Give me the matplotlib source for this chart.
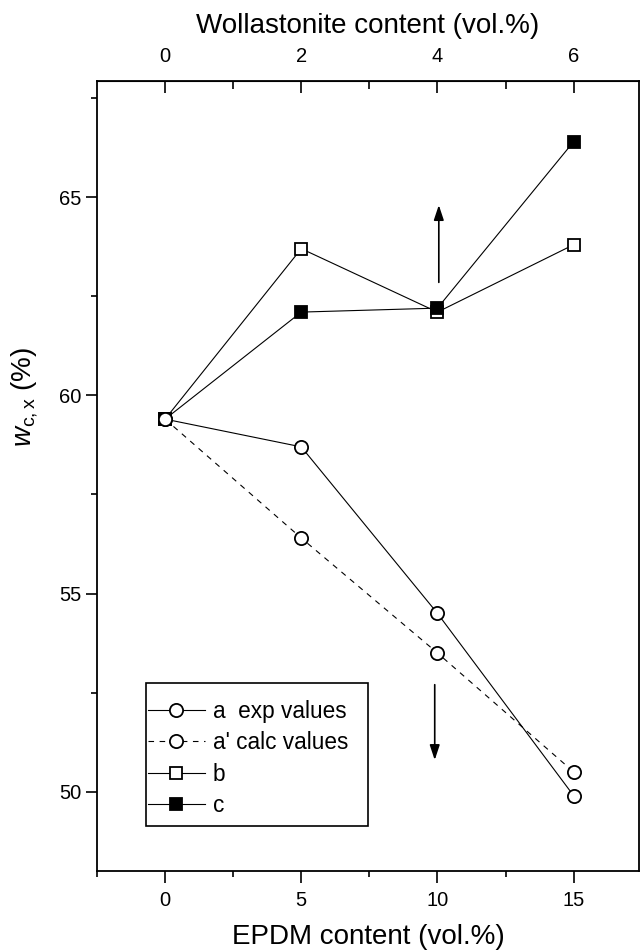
import matplotlib
matplotlib.use("Agg")
import matplotlib.pyplot as plt
from matplotlib.ticker import MultipleLocator, FixedLocator
from matplotlib.patches import Rectangle

plt.rcParams['font.family'] = ['Liberation Sans', 'DejaVu Sans']
plt.rcParams['mathtext.fontset'] = 'custom'
plt.rcParams['mathtext.rm'] = 'Liberation Sans'
plt.rcParams['mathtext.it'] = 'Liberation Sans:italic'

# EPDM content (vol.%) and the crystallinity of each series
epdm = [0, 5, 10, 15]
a_exp = [59.4, 58.7, 54.5, 49.9]
a_calc = [59.4, 56.4, 53.5, 50.5]
b_vals = [59.4, 63.7, 62.1, 63.8]
c_vals = [59.4, 62.1, 62.2, 66.4]
wollastonite_ticks = [0, 2, 4, 6]

W, H = 640, 951
fig = plt.figure(figsize=(W / 100, H / 100), dpi=100)
ax = fig.add_axes([97 / W, (H - 871) / H, (639 - 97) / W, (871 - 81) / H])

lw = 0.8
ms_c = 9.5
ms_s = 8.5
mew = 1.3
ax.plot(epdm, b_vals, '-', color='black', lw=lw, marker='s', ms=ms_s,
        mfc='white', mec='black', mew=mew, label='b', zorder=3)
ax.plot(epdm, c_vals, '-', color='black', lw=lw, marker='s', ms=ms_s,
        mfc='black', mec='black', mew=mew, label='c', zorder=3)
ax.plot(epdm, a_exp, '-', color='black', lw=lw, marker='o', ms=ms_c,
        mfc='white', mec='black', mew=mew, label='a  exp values', zorder=4)
line_calc, = ax.plot(epdm, a_calc, '--', color='black', lw=lw, marker='o', ms=ms_c,
                     mfc='white', mec='black', mew=mew, label="a' calc values", zorder=4)
line_calc.set_dashes([5, 5])

# direction arrows
arrow = dict(arrowstyle='-|>,head_length=0.9,head_width=0.3', color='black', lw=1.2,
             shrinkA=0, shrinkB=0)
ax.annotate('', xy=(10.05, 64.8), xytext=(10.05, 62.85), arrowprops=arrow)
ax.annotate('', xy=(9.9, 50.8), xytext=(9.9, 52.7), arrowprops=arrow)

ax.set_xlim(-2.5, 17.4)
ax.set_ylim(48, 67.93)
ax.xaxis.set_major_locator(MultipleLocator(5))
ax.xaxis.set_minor_locator(MultipleLocator(2.5))
ax.yaxis.set_major_locator(MultipleLocator(5))
ax.yaxis.set_minor_locator(MultipleLocator(2.5))

ax.tick_params(axis='x', which='major', direction='out', length=8.5, width=1.2,
               labelsize=14.5, pad=6, top=False)
ax.tick_params(axis='x', which='minor', direction='out', length=4.5, width=1.2, top=False)
ax.tick_params(axis='y', which='major', direction='out', length=8, width=1.2,
               labelsize=14.5, pad=3, right=False)
ax.tick_params(axis='y', which='minor', direction='out', length=4, width=1.2, right=False)

for s in ax.spines.values():
    s.set_linewidth(1.3)

ax.set_xlabel('EPDM content (vol.%)', fontsize=20, labelpad=10)
ax.set_ylabel(r'$w_{\mathrm{c,x}}$ (%)', fontsize=20)
ax.yaxis.set_label_coords(-0.105, 0.60)

# wollastonite scale on top: 2.5 vol.% EPDM per 1 vol.% wollastonite
top = ax.secondary_xaxis('top', functions=(lambda x: x / 2.5, lambda w: w * 2.5))
top.xaxis.set_major_locator(FixedLocator(wollastonite_ticks))
top.xaxis.set_minor_locator(FixedLocator([1, 3, 5]))
top.tick_params(which='major', direction='in', length=8.5, width=1.2, labelsize=14.5, pad=11)
top.tick_params(which='minor', direction='in', length=5.5, width=1.2)
top.set_xlabel('Wollastonite content (vol.%)', fontsize=20, labelpad=10)

handles, labels = ax.get_legend_handles_labels()
order = [2, 3, 0, 1]
leg = ax.legend([handles[i] for i in order], [labels[i] for i in order],
                loc='upper left', bbox_to_anchor=((148 - 97) / 542, (871 - 700) / 790),
                borderaxespad=0, borderpad=0, fontsize=16.3, frameon=False,
                handlelength=2.5, handletextpad=0.35, labelspacing=0.37, numpoints=1)

# legend box, wider padding above and below the entries than at the sides
frame = Rectangle(((146 - 97) / 542, (871 - 826) / 790), (368 - 146) / 542, (826 - 683) / 790,
                  transform=ax.transAxes, fill=False, edgecolor='black', lw=1.2, zorder=5)
ax.add_patch(frame)

fig.savefig('out.png', dpi=100)
